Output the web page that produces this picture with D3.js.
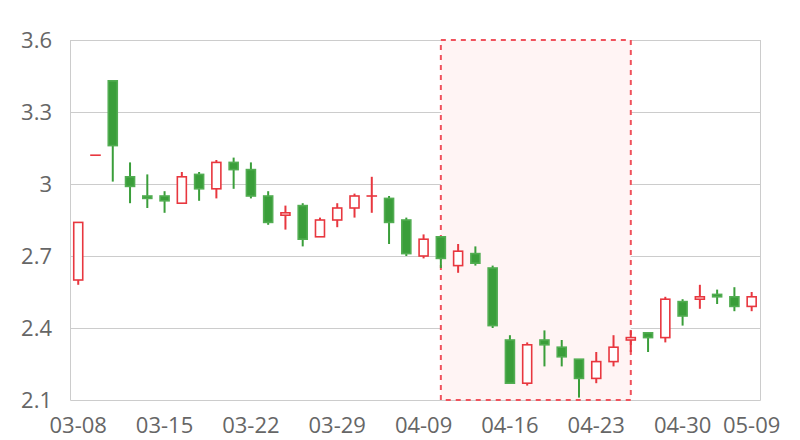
<!DOCTYPE html>
<html>
<head>
<meta charset="utf-8">
<script src="https://cdn.jsdelivr.net/npm/d3@7/dist/d3.min.js"></script>
<style>
html,body{margin:0;padding:0;background:#fff;}
svg{display:block;}
</style>
</head>
<body>
<svg id="chart" width="800" height="440"></svg>
<script>
const dates = ["03-08","03-11","03-12","03-13","03-14","03-15","03-18","03-19","03-20","03-21","03-22","03-25","03-26","03-27","03-28","03-29","04-01","04-02","04-03","04-08","04-09","04-10","04-11","04-12","04-15","04-16","04-17","04-18","04-19","04-22","04-23","04-24","04-25","04-26","04-29","04-30","05-06","05-07","05-08","05-09"];
const openV  = [2.60,3.12,3.43,3.03,2.95,2.95,2.92,3.04,2.98,3.09,3.06,2.95,2.87,2.91,2.78,2.85,2.90,2.95,2.94,2.85,2.70,2.78,2.66,2.71,2.65,2.35,2.17,2.35,2.32,2.27,2.19,2.26,2.35,2.38,2.36,2.51,2.52,2.54,2.53,2.49];
const closeV = [2.84,3.12,3.16,2.99,2.94,2.93,3.03,2.98,3.09,3.06,2.95,2.84,2.88,2.77,2.85,2.90,2.95,2.95,2.84,2.71,2.77,2.69,2.72,2.67,2.41,2.17,2.33,2.33,2.28,2.19,2.26,2.32,2.36,2.36,2.52,2.45,2.53,2.53,2.49,2.53];
const lowV   = [2.58,3.12,3.01,2.92,2.90,2.88,2.92,2.93,2.94,2.98,2.94,2.83,2.81,2.74,2.78,2.82,2.86,2.88,2.75,2.70,2.69,2.65,2.63,2.66,2.40,2.17,2.16,2.24,2.24,2.11,2.17,2.24,2.30,2.30,2.34,2.41,2.48,2.50,2.47,2.47];
const highV  = [2.84,3.12,3.43,3.09,3.04,2.97,3.05,3.05,3.10,3.11,3.09,2.97,2.91,2.92,2.86,2.92,2.96,3.03,2.95,2.86,2.79,2.78,2.75,2.74,2.66,2.37,2.34,2.39,2.35,2.27,2.30,2.37,2.39,2.38,2.53,2.52,2.58,2.56,2.57,2.55];
const yTicks = [2.1,2.4,2.7,3.0,3.3,3.6];
const yTickLabels = ["2.1","2.4","2.7","3","3.3","3.6"];
const xTickLabels = ["03-08","03-15","03-22","03-29","04-09","04-16","04-23","04-30","05-09"];
const areaStart = "04-10", areaEnd = "04-25";

const svg = d3.select("#chart");
const plotL = 70.5, plotR = 760.5, plotT = 40, plotB = 400;
const x = d3.scaleBand().domain(dates).range([69.6, 760.3]);
const cx = d => x(d) + x.bandwidth()/2;
const y = d3.scaleLinear().domain([2.1, 3.6]).range([plotB, plotT]);
const font = "'Open Sans', 'Noto Sans', sans-serif";
const fontSize = 22;

// grid lines
const grid = svg.append("g");
grid.selectAll("line.h").data(yTicks).join("line")
  .attr("x1", plotL).attr("x2", plotR)
  .attr("y1", d => Math.round(y(d)) + 0.5).attr("y2", d => Math.round(y(d)) + 0.5)
  .attr("stroke", "#cccccc").attr("stroke-width", 1);
grid.selectAll("line.v").data([plotL, plotR]).join("line")
  .attr("x1", d => d).attr("x2", d => d)
  .attr("y1", plotT).attr("y2", plotB + 0.5)
  .attr("stroke", "#cccccc").attr("stroke-width", 1);

// y labels
svg.append("g").selectAll("text").data(yTicks).join("text")
  .attr("x", 52).attr("y", d => y(d))
  .attr("dy", "0.36em")
  .attr("text-anchor", "end")
  .attr("font-family", font).attr("font-size", fontSize)
  .attr("fill", "#666")
  .text((d, i) => yTickLabels[i]);

// mark area
const ax0 = cx(areaStart), ax1 = cx(areaEnd);
svg.append("rect")
  .attr("x", ax0).attr("y", y(3.6))
  .attr("width", ax1 - ax0).attr("height", y(2.1) - y(3.6))
  .attr("fill", "#fff4f4")
  .attr("stroke", "#f0525c").attr("stroke-width", 2)
  .attr("stroke-dasharray", "5,5");

// candles
const data = dates.map((d, i) => ({d, o: openV[i], c: closeV[i], l: lowV[i], h: highV[i]}));
const up = "#e8373f", down = "#3a9e3a";
const g = svg.append("g");
const bw = 9;
const cg = g.selectAll("g").data(data).join("g");
cg.append("line")
  .attr("x1", d => cx(d.d)).attr("x2", d => cx(d.d))
  .attr("y1", d => y(d.h)).attr("y2", d => y(d.l))
  .attr("stroke", d => d.c >= d.o ? up : down)
  .attr("stroke-width", 2);
cg.append("rect")
  .attr("x", d => cx(d.d) - bw/2)
  .attr("y", d => y(Math.max(d.o, d.c)))
  .attr("width", bw)
  .attr("height", d => Math.max(0.01, Math.abs(y(d.o) - y(d.c))))
  .attr("fill", d => d.c >= d.o ? "#ffffff" : down)
  .attr("stroke", d => d.c >= d.o ? up : "#52ad52")
  .attr("stroke-width", 1.6);

// x labels
svg.append("g").selectAll("text").data(xTickLabels).join("text")
  .attr("x", d => cx(d)).attr("y", 433)
  .attr("text-anchor", "middle")
  .attr("font-family", font).attr("font-size", fontSize)
  .attr("fill", "#666")
  .text(d => d);
</script>
</body>
</html>
